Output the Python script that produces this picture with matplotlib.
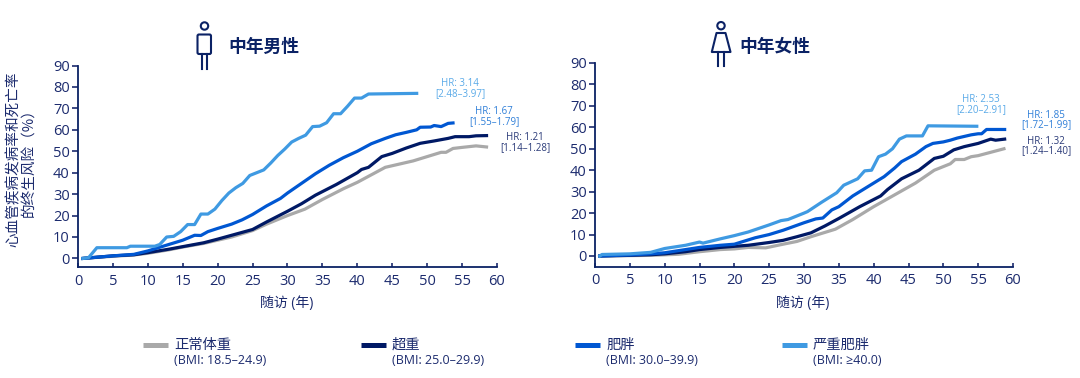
import matplotlib
matplotlib.use("Agg")
import matplotlib.pyplot as plt
from matplotlib.lines import Line2D
from matplotlib.patches import Circle, FancyBboxPatch, Polygon

plt.rcParams['font.family'] = ['Open Sans', 'Noto Sans CJK SC', 'DejaVu Sans']

GROUPS = ["正常体重", "超重", "肥胖", "严重肥胖"]
BMI = ["(BMI: 18.5–24.9)", "(BMI: 25.0–29.9)", "(BMI: 30.0–39.9)", "(BMI: ≥40.0)"]
XTICKS = [0, 5, 10, 15, 20, 25, 30, 35, 40, 45, 50, 55, 60]
YTICKS = [0, 10, 20, 30, 40, 50, 60, 70, 80, 90]

m_normal_x = [0.7,5,8,10,13,15,18,20,22,25,27,30,32.5,35,38,40,42,44,46,48,50,52,52.7,53.7,55,57,58.5]
m_normal_y = [0,1,1.6,2.4,4,5.3,7,8.5,10,13,16,20,23,27.5,32.5,35.5,39,42.5,44,45.5,47.5,49.5,49.5,51.3,51.8,52.5,52]
m_over_x = [0.7,5,8,10,13,15,18,20,22,25,27,30,32,34,37,40,40.6,41.6,43.5,45,47,49,51,53,54,56,57,58.5]
m_over_y = [0,1.2,1.7,2.7,4.3,5.5,7.3,9,10.8,13.5,17,22,25.5,29.5,34.5,40,41.5,42.5,47.5,49,51.5,53.7,54.8,56,56.8,56.8,57.2,57.3]
m_obese_x = [0.7,5,8,10,12,13,15,16.7,17.6,18.6,20,22,23.5,25,27,29,30,32,34,36,38,40,42,44,45.5,47,48.5,49,50.5,51,52,53,53.7]
m_obese_y = [0,1.2,1.9,3.5,5.5,6.5,8.5,10.8,10.7,12.5,14,16,18,20.5,24.5,28,30.5,35,39.5,43.5,47,50,53.5,56,57.7,58.8,60,61.2,61.3,62,61.5,63,63.2]
m_severe_x = [0.7,1.5,2.7,7,7.5,9,11,11.7,12.7,13.7,14.7,15.7,16.7,17.6,18.6,19.6,20.6,21.6,22.6,23.6,24.6,25.6,26.6,27.6,28.6,29.6,30.6,31.6,32.6,33.6,34.6,35.6,36.6,37.6,38.6,39.6,40.6,41.6,48.5]
m_severe_y = [0,0.3,5,5,5.7,5.7,5.7,6.5,10,10.3,12.5,15.8,15.8,20.7,20.7,23,27,30.5,33,35,38.7,40,41.3,44.5,48,51,54.3,56,57.5,61.5,61.7,63.3,67.5,67.5,71,74.8,74.8,76.7,77]

f_normal_x = [0.7,8,12,15,18,20,22,24.5,27,29,31,34.5,37,40,43,46,48.7,51,51.7,53,54,55,58.7]
f_normal_y = [0,0.3,0.8,2,3,3.3,4,3.8,5.5,6.8,9,12.5,17,23,28.5,34,40,43,45,45,46.3,46.8,50]
f_over_x = [0.7,5,8,10,13,15,18,20,22,25,27,29,31,33,35,38,41,42,44,46.5,48.7,50,51.5,53,55,56.8,57.5,58.8]
f_over_y = [0,0.3,0.6,1,2,3,4,4.5,5,6.3,7.3,9,10.8,14,17.5,23,28,31,36,40,45.5,46.5,49.5,51,52.5,54.5,54,54.5]
f_obese_x = [0.7,5,8,10,13,15,18,20,21.5,23,25,27,30,31.7,32.7,34,35,37,38,40,41.5,43,44,46,47.5,48.5,50,51,52,54,55,55.5,56.2,58.8]
f_obese_y = [0,0.5,1,1.5,3,4,5,5.5,7,8.5,10,12,15.5,17.3,17.7,21.5,23,28,30,34,37,41,44,47.5,51,52.5,53.2,54,55,56.5,57,57,59,59]
f_severe_x = [0.7,1,5,8,10,13,15,15.5,18,20,22,25,26.7,27.7,30,30.5,32.5,34.7,35.7,37.7,38.7,39.7,40.7,41.7,42.7,43.7,44.7,47,47.8,54.8]
f_severe_y = [0,0.7,1,1.7,3.5,5,6.5,6,8,9.5,11.2,14.5,16.5,17,20,20.7,25,29.5,33,36,39.7,40,46.3,47.5,50,54.5,56,56,60.7,60.5]

W, H = 1080, 378
NAVY = "#1c2b6e"
DARK = "#0b2265"
COLORS = ["#a9a9a9", "#001965", "#0057d2", "#3f9ae2"]

fig = plt.figure(figsize=(W / 100, H / 100), dpi=100)

def make_axes(x0, x1, top, bottom, ymin):
    ax = fig.add_axes([x0 / W, 1 - bottom / H, (x1 - x0) / W, (bottom - top) / H])
    ax.set_xlim(0, 60)
    ax.set_ylim(ymin, 90)
    ax.set_xticks(XTICKS)
    ax.set_yticks(YTICKS)
    ax.tick_params(colors=NAVY, labelsize=10.5, length=4, width=1.2, pad=2)
    ax.tick_params(axis='x', direction='in', length=3, pad=5)
    for s in ("top", "right"):
        ax.spines[s].set_visible(False)
    for s in ("left", "bottom"):
        ax.spines[s].set_color(DARK)
        ax.spines[s].set_linewidth(1.3)
    ax.patch.set_alpha(0)
    return ax

ax1 = make_axes(78, 497, 65.5, 267, -4)
ax2 = make_axes(595, 1013, 63, 266.5, -4.9)

for ax, series in (
    (ax1, [(m_normal_x, m_normal_y), (m_over_x, m_over_y), (m_obese_x, m_obese_y), (m_severe_x, m_severe_y)]),
    (ax2, [(f_normal_x, f_normal_y), (f_over_x, f_over_y), (f_obese_x, f_obese_y), (f_severe_x, f_severe_y)]),
):
    for (x, y), c in zip(series, COLORS):
        ax.plot(x, y, color=c, lw=2.3, solid_joinstyle='round', clip_on=False)

# pixel-space overlay for annotations, icons and legend
ov = fig.add_axes([0, 0, 1, 1])
ov.set_xlim(0, W)
ov.set_ylim(H, 0)
ov.axis('off')
ov.patch.set_alpha(0)

def txt(x, y, s, size, color=NAVY, ha='center', **kw):
    ov.text(x, y, s, fontsize=size, color=color, ha=ha, va='center', **kw)

CJK = ['Noto Sans CJK SC', 'DejaVu Sans']
txt(264, 47, "中年男性", 12.8, DARK, family=CJK, fontweight='bold')
txt(775, 47, "中年女性", 12.8, DARK, family=CJK, fontweight='bold')
txt(21.5, 159, "心血管疾病发病率和死亡率\n的终生风险（%）", 10.5, NAVY, family=CJK, rotation=90,
    multialignment='center', linespacing=1.2)
txt(287, 303, "随访 (年)", 10, NAVY)
txt(803, 303, "随访 (年)", 10, NAVY)

HR = [
    (460, 83, 94, "HR: 3.14", "[2.48–3.97]", "#5aaae8"),
    (494, 112, 122, "HR: 1.67", "[1.55–1.79]", "#2f7fd8"),
    (525, 137, 148, "HR: 1.21", "[1.14–1.28]", "#2a3a78"),
    (981, 99, 110, "HR: 2.53", "[2.20–2.91]", "#5aaae8"),
    (1046, 115, 125, "HR: 1.85", "[1.72–1.99]", "#2f7fd8"),
    (1046, 141, 151, "HR: 1.32", "[1.24–1.40]", "#2a3a78"),
]
for x, y1, y2, a, b, c in HR:
    txt(x, y1, a, 7, c)
    txt(x, y2, b, 7, c)

# male icon
ic = dict(fill=False, ec=DARK, lw=1.5)
ov.add_patch(Circle((204.5, 26), 3.7, **ic))
ov.add_patch(FancyBboxPatch((197.5, 34.5), 13.5, 19.5, boxstyle="round,pad=0,rounding_size=1.5", **ic))
ov.add_line(Line2D([201.8, 201.8], [54, 69], color=DARK, lw=1.5))
ov.add_line(Line2D([207, 207], [54, 69], color=DARK, lw=1.5))
# female icon
ov.add_patch(Circle((721, 25.7), 3.7, **ic))
ov.add_patch(Polygon([(716.5, 33), (725.5, 33), (730.5, 52), (711.8, 52)], closed=True, joinstyle='round', **ic))
ov.add_line(Line2D([718.3, 718.3], [52, 66], color=DARK, lw=1.5))
ov.add_line(Line2D([723.8, 723.8], [52, 66], color=DARK, lw=1.5))

# legend
for x0, g, b, c in zip([143, 361, 575, 782], GROUPS, BMI, COLORS):
    ov.add_line(Line2D([x0, x0 + 25], [345, 345], color=c, lw=3.6, solid_capstyle='butt'))
    txt(x0 + 31, 344.5, g, 10.3, NAVY, ha='left', family=CJK)
    txt(x0 + 31, 361, b, 9, NAVY, ha='left')

fig.savefig("out.png", dpi=100)
